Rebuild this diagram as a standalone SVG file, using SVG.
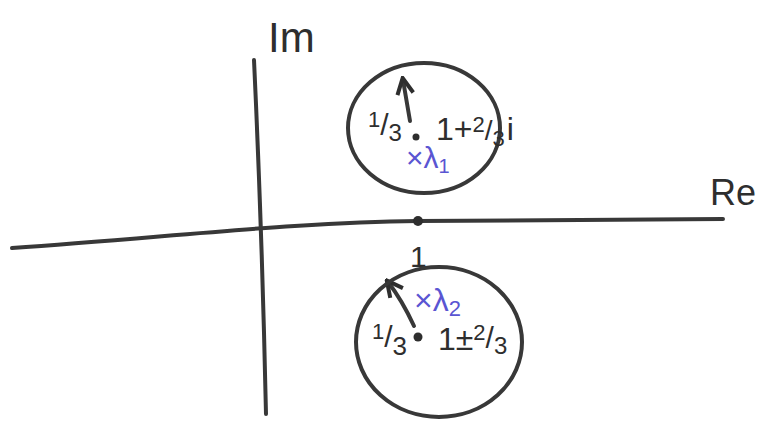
<svg xmlns="http://www.w3.org/2000/svg" width="759" height="421" viewBox="0 0 759 421">
<style>
.ln{fill:none;stroke:#383838;stroke-width:4;stroke-linecap:round;stroke-linejoin:round}
.t{font-family:"Liberation Sans",Arial,sans-serif;fill:#2e2e2e}
.b{font-family:"Liberation Sans",Arial,sans-serif;fill:#5a55d2}
</style>
<defs>
<marker id="ah" viewBox="0 0 10 10" refX="8" refY="5" markerWidth="5" markerHeight="5" orient="auto-start-reverse">
<path d="M1,1 L9,5 L1,9" fill="none" stroke="#2e2e2e" stroke-width="2"/>
</marker>
</defs>
<rect width="759" height="421" fill="#fff"/>
<g id="connectors">
<path class="ln" d="M12,248 C180,236 300,222 418,221 L723,219"/>
<path class="ln" d="M254,60 Q262,230 266,414"/>
<path class="ln" d="M410,121 L403,80" marker-end="url(#ah)"/>
<path class="ln" d="M414,326 Q402,300 388,282" marker-end="url(#ah)"/>
</g>
<g id="axis-labels">
<text class="t" x="268" y="52" font-size="42">Im</text>
<text class="t" x="710" y="205" font-size="36">Re</text>
</g>
<g id="point-1">
<circle cx="418" cy="221" r="5" fill="#2e2e2e"/>
<text class="t" x="410" y="267" font-size="30">1</text>
</g>
<g id="disc-top">
<ellipse class="ln" cx="424" cy="128" rx="76" ry="65"/>
<circle cx="416" cy="137" r="3.5" fill="#2e2e2e"/>
<text class="t" x="368" y="135" font-size="30"><tspan font-size="22" dy="-8">1</tspan><tspan dy="8">/</tspan><tspan font-size="24" dy="6">3</tspan></text>
<text class="t" x="436" y="140" font-size="32">1+<tspan font-size="22" dy="-8">2</tspan><tspan font-size="28" dy="8">/</tspan><tspan font-size="22" dy="6">3</tspan><tspan dx="2" dy="-6">i</tspan></text>
<text class="b" x="406" y="168" font-size="30">×λ<tspan font-size="20" dy="5">1</tspan></text>
</g>
<g id="disc-bottom">
<ellipse class="ln" cx="439" cy="342" rx="83" ry="75"/>
<circle cx="418" cy="337" r="4.5" fill="#2e2e2e"/>
<text class="t" x="372" y="347" font-size="30"><tspan font-size="22" dy="-8">1</tspan><tspan dy="8">/</tspan><tspan font-size="26" dy="8">3</tspan></text>
<text class="t" x="438" y="350" font-size="32">1±<tspan font-size="22" dy="-10">2</tspan><tspan font-size="30" dy="8">/</tspan><tspan font-size="24" dy="6">3</tspan></text>
<text class="b" x="414" y="311" font-size="32">×λ<tspan font-size="22" dy="5">2</tspan></text>
</g>
</svg>
